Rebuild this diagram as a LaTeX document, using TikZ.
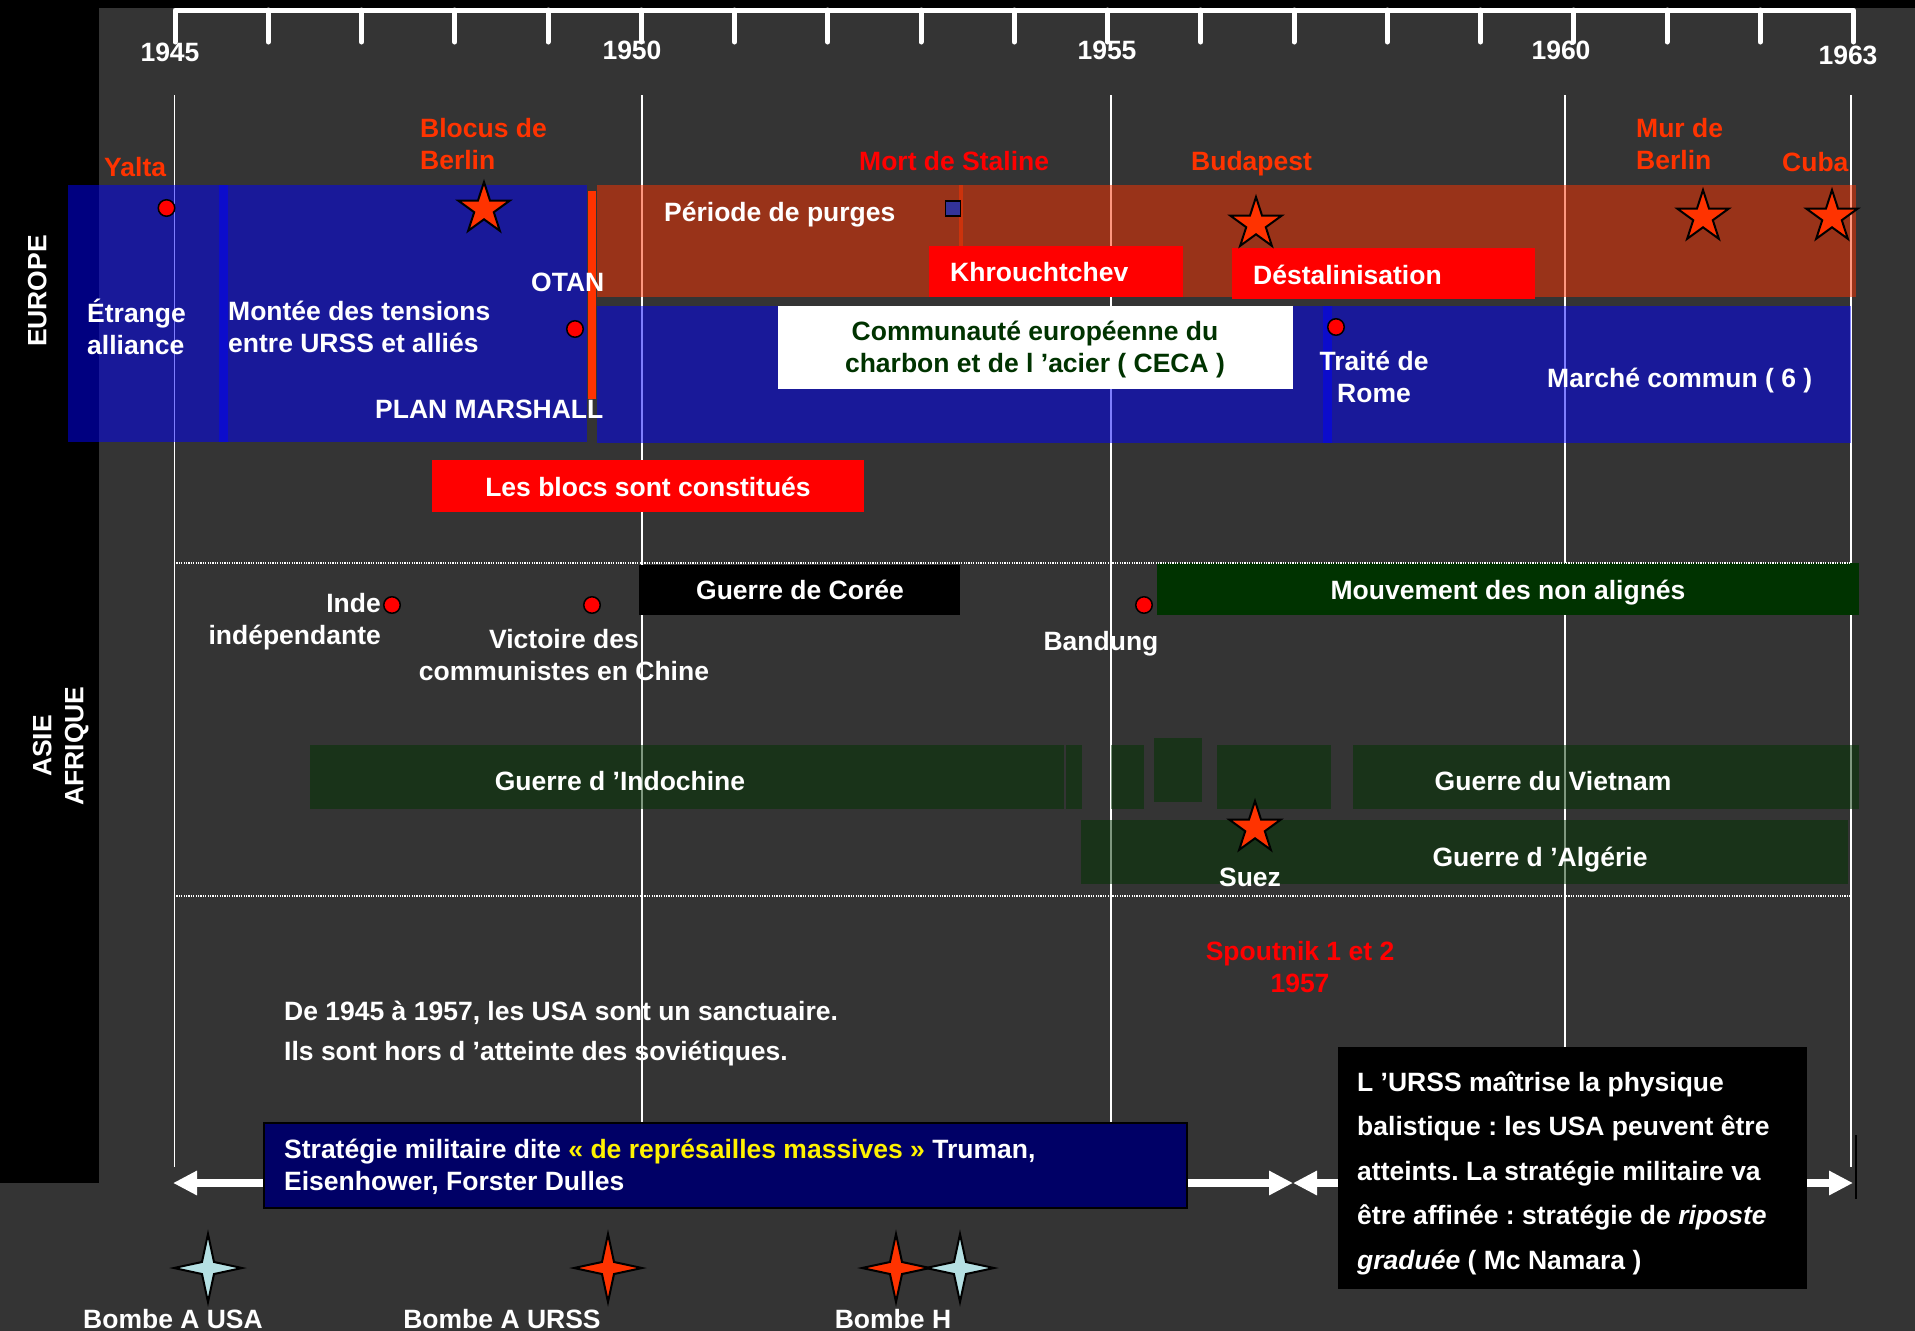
\documentclass[tikz,border=0pt]{standalone}
\usepackage{fontspec}
\setmainfont{Liberation Sans}
\usetikzlibrary{arrows.meta}
\frenchspacing
\definecolor{bggray}{HTML}{343434}
\definecolor{orred}{HTML}{FF3300}
\definecolor{cecagreen}{HTML}{003300}
\definecolor{navybox}{HTML}{000066}
\definecolor{mgreen}{HTML}{003300}
\definecolor{sqblue}{HTML}{333399}
\definecolor{pblue}{HTML}{B5E0E3}
\newcommand\tlfont{\fontsize{26.5}{32}\selectfont\bfseries}
\newcommand\tlfontB{\fontsize{26.5}{44.5}\selectfont\bfseries}
\newcommand\tlfontC{\fontsize{26.5}{40}\selectfont\bfseries}
\newcommand\tlstrut{\rule[-9.6pt]{0pt}{32pt}}
\tikzset{
  fivestar/.pic={\draw[fill=orred, draw=black, line width=2pt]
    (90:27pt) -- (126:10.3pt) -- (162:27pt) -- (198:10.3pt) -- (234:27pt) -- (270:10.3pt)
    -- (306:27pt) -- (342:10.3pt) -- (18:27pt) -- (54:10.3pt) -- cycle;},
  fourstar/.pic={\path[draw=black, line width=2pt, pic actions]
    (0:34pt) -- (45:8.5pt) -- (90:34pt) -- (135:8.5pt) -- (180:34pt) -- (225:8.5pt)
    -- (270:34pt) -- (315:8.5pt) -- cycle;}
}
\begin{document}
\begin{tikzpicture}[x=1pt,y=-1pt,
  txt/.style={inner sep=0pt, font=\tlfont, text=white,
    execute at begin node=\tlstrut, execute at end node=\tlstrut},
  evt/.style={txt, text=orred},
  dot/.style={circle, fill=red, draw=black, line width=1.5pt, minimum size=16.5pt, inner sep=0pt},
  grid/.style={white, line width=1.5pt},
  dotline/.style={white, line width=1.5pt, dash pattern=on 1.2pt off 1.2pt},
  band/.style={fill opacity=0.5},
  bigarrow/.style={white, line width=8pt, {Triangle[length=24pt,width=23pt]}-{Triangle[length=24pt,width=23pt]}}
]
\useasboundingbox (0,0) rectangle (1915,1331);
% background
\fill[black] (0,0) rectangle (1915,1331);
\fill[bggray] (99,8) rectangle (1915,1331);
\fill[bggray] (0,1183) rectangle (99,1331);

% time axis
\draw[white, line width=5pt, line cap=round, line join=round]
  (175,42) -- (175,10) -- (1853.5,10) -- (1853.5,42);
\foreach \k in {1,...,17} \draw[white, line width=5pt, line cap=round] (175+93.25*\k,10) -- (175+93.25*\k,42);
\node[txt] (y1945) at (170,55) {1945};
\node[txt] (y1950) at (632,53) {1950};
\node[txt] (y1955) at (1107,53) {1955};
\node[txt] (y1960) at (1561,53) {1960};
\node[txt] (y1963) at (1848,58) {1963};

% grid lines
\foreach \gx in {174.5,642,1111,1565,1851} \draw[grid] (\gx,95) -- (\gx,1167);

% side labels
\node[txt, rotate=90] (europe) at (40,291) {EUROPE};
\node[txt, rotate=90, align=center] (asie) at (63,746) {ASIE\\AFRIQUE};

% Europe bands
\fill[blue, band] (68,185) rectangle (228,442);
\fill[blue, band] (219,185) rectangle (587,442);
\fill[orred, band] (597,185) rectangle (963,297);
\fill[orred, band] (959,185) rectangle (1856,297);
\fill[blue, band] (597,306) rectangle (1332,443);
\fill[blue, band] (1323,306) rectangle (1851,443);
\fill[orred] (588,191) rectangle (596,399);
\fill[red] (929,246) rectangle (1183,297);
\fill[red] (1232,248) rectangle (1535,299);
\fill[white] (778,306) rectangle (1293,389);
\fill[red] (432,460) rectangle (864,512);

% Asia / Africa bands
\fill[black] (639,565) rectangle (960,615);
\fill[mgreen] (1157,563) rectangle (1859,615);
\fill[mgreen, band] (310,745) rectangle (1064,809);
\fill[mgreen, band] (1066,745) rectangle (1082,809);
\fill[mgreen, band] (1111,745) rectangle (1144,809);
\fill[mgreen, band] (1154,738) rectangle (1202,802);
\fill[mgreen, band] (1217,745) rectangle (1331,809);
\fill[mgreen, band] (1353,745) rectangle (1859,809);
\fill[mgreen, band] (1081,820) rectangle (1848,884);

% dotted separators
\draw[dotline] (174,563) -- (1851,563);
\draw[dotline] (174,896) -- (1851,896);

% markers
\node[dot] (yaltadot) at (166.5,208) {};
\node[dot] (otandot) at (575,329) {};
\node[dot] (romedot) at (1336,327) {};
\node[dot] (indedot) at (392,605) {};
\node[dot] (chinedot) at (592,605) {};
\node[dot] (bandungdot) at (1144,605) {};
\node[draw=black, fill=sqblue, line width=1.5pt, minimum size=15pt, inner sep=0pt] (stalinsq) at (953,208.5) {};
\pic at (484,209) {fivestar};
\pic at (1256,224) {fivestar};
\pic at (1703,217) {fivestar};
\pic at (1832,217) {fivestar};
\pic at (1255,828) {fivestar};

% Europe texts
\node[evt, anchor=west] (yalta) at (104,170) {Yalta};
\node[evt, anchor=west, align=left] (blocus) at (420,149) {Blocus de\\Berlin};
\node[txt, text=red, anchor=west] (staline) at (859,164) {Mort de Staline};
\node[evt, anchor=west] (budapest) at (1191,164) {Budapest};
\node[evt, anchor=west, align=left] (mur) at (1636,149) {Mur de\\Berlin};
\node[evt, anchor=west] (cuba) at (1782,165) {Cuba};
\node[txt, anchor=west] (purges) at (664,215) {Période de purges};
\node[txt, anchor=west] (khrou) at (950,275) {Khrouchtchev};
\node[txt, anchor=west] (desta) at (1253,278) {Déstalinisation};
\node[txt, anchor=west, align=left] (etrange) at (87,332) {Étrange\\alliance};
\node[txt, anchor=west, align=left] (montee) at (228,332) {Montée des tensions\\entre URSS et alliés};
\node[txt, anchor=west] (otan) at (531,285) {OTAN};
\node[txt, anchor=west] (marshall) at (375,412) {PLAN MARSHALL};
\node[txt, text=cecagreen, align=center] (ceca) at (1035,352) {Communauté européenne du\\charbon et de l ’acier ( CECA )};
\node[txt, align=center] (rome) at (1374,382) {Traité de\\Rome};
\node[txt, anchor=west] (marche) at (1547,381) {Marché commun ( 6 )};
\node[txt] (blocs) at (648,490) {Les blocs sont constitués};

% Asia / Africa texts
\node[txt] (coree) at (800,593) {Guerre de Corée};
\node[txt, anchor=east, align=right] (inde) at (381,624) {Inde\\indépendante};
\node[txt, align=center] (chine) at (564,660) {Victoire des\\communistes en Chine};
\node[txt] (bandung) at (1101,644) {Bandung};
\node[txt] (nonalign) at (1508,593) {Mouvement des non alignés};
\node[txt] (indochine) at (620,784) {Guerre d ’Indochine};
\node[txt] (vietnam) at (1553,784) {Guerre du Vietnam};
\node[txt] (algerie) at (1540,860) {Guerre d ’Algérie};
\node[txt] (suez) at (1250,880) {Suez};

% lower part
\node[txt, text=red, align=center] (spoutnik) at (1300,972) {Spoutnik 1 et 2\\1957};
\node[txt, font=\tlfontC, anchor=west, align=left] (sanct) at (284,1036)
  {De 1945 à 1957, les USA sont un sanctuaire.\\Ils sont hors d ’atteinte des soviétiques.};

\coordinate (arrL) at (173,1183);
\coordinate (arrM) at (1293,1183);
\coordinate (arrR) at (1853,1183);
\draw[bigarrow] (arrL) -- (arrM);
\draw[bigarrow] (arrM) -- (arrR);
\coordinate (endT) at (1856,1135);
\coordinate (endB) at (1856,1199);
\draw[black, line width=2pt] (endT) -- (endB);

\filldraw[fill=navybox, draw=black, line width=2.5pt] (264,1123) rectangle (1187,1208);
\node[txt, anchor=west, align=left] (strat) at (284,1169.5)
  {Stratégie militaire dite \textcolor{yellow}{« de représailles massives »} Truman,\\Eisenhower, Forster Dulles};
\fill[black] (1338,1047) rectangle (1807,1289);
\node[txt, font=\tlfontB, anchor=west, align=left] (riposte) at (1357,1175)
  {L ’URSS maîtrise la physique\\balistique : les USA peuvent être\\atteints. La stratégie militaire va\\être affinée : stratégie de \textit{riposte}\\\textit{graduée} ( Mc Namara )};

% bombs
\pic[fill=pblue] at (208,1268) {fourstar};
\pic[fill=orred] at (608,1268) {fourstar};
\pic[fill=orred] at (896,1268) {fourstar};
\pic[fill=pblue] at (960,1268) {fourstar};
\node[txt] (bomba) at (173,1322) {Bombe A USA};
\node[txt] (bombb) at (502,1322) {Bombe A URSS};
\node[txt] (bombh) at (893,1322) {Bombe H};
\end{tikzpicture}
\end{document}
